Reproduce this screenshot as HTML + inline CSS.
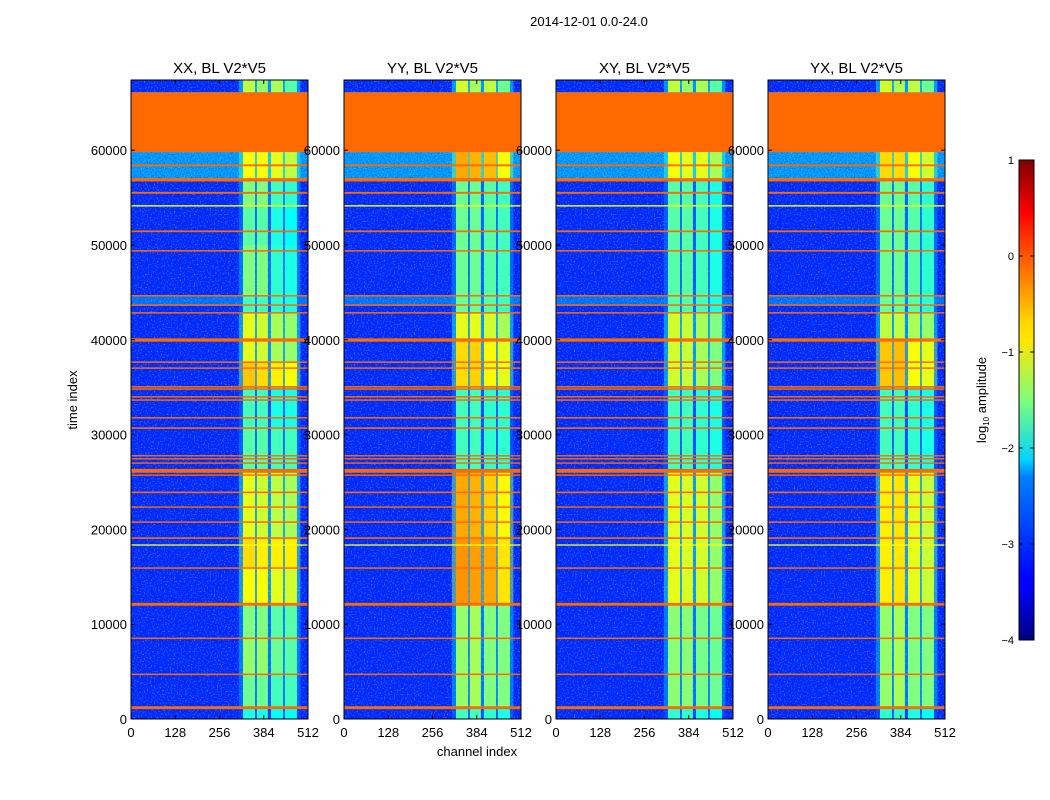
<!DOCTYPE html>
<html><head><meta charset="utf-8">
<style>
html,body{margin:0;padding:0;background:#fff;}
svg{display:block;font-family:"Liberation Sans",sans-serif;}
</style></head>
<body>
<svg id="chart" width="1050" height="800" viewBox="0 0 1050 800" xmlns="http://www.w3.org/2000/svg">
<defs>
<filter id="noiseLight" x="0" y="0" width="100%" height="100%">
<feTurbulence type="fractalNoise" baseFrequency="0.7" numOctaves="1" seed="3" result="t"/>
<feColorMatrix in="t" type="matrix" values="0 0 0 0 0.1  0 0 0 0 0.75  0 0 0 0 1  4 0 0 0 -2.1"/>
</filter>
<filter id="noiseDark" x="0" y="0" width="100%" height="100%">
<feTurbulence type="fractalNoise" baseFrequency="0.7" numOctaves="1" seed="9" result="t"/>
<feColorMatrix in="t" type="matrix" values="0 0 0 0 0  0 0 0 0 0.05  0 0 0 0 0.8  4 0 0 0 -1.9"/>
</filter>
<linearGradient id="jetgrad" x1="0" y1="1" x2="0" y2="0">
<stop offset="0" stop-color="#00007f"/><stop offset="0.11" stop-color="#0000ff"/>
<stop offset="0.125" stop-color="#0000ff"/><stop offset="0.34" stop-color="#0080ff"/>
<stop offset="0.375" stop-color="#00d4ff"/><stop offset="0.5" stop-color="#7dff7a"/>
<stop offset="0.625" stop-color="#ffe600"/><stop offset="0.66" stop-color="#ffd800"/>
<stop offset="0.78" stop-color="#ff6a00"/><stop offset="0.89" stop-color="#ff0000"/>
<stop offset="1" stop-color="#7f0000"/>
</linearGradient>
</defs>
<text x="589" y="26" font-size="13" text-anchor="middle">2014-12-01 0.0-24.0</text>
<g id="panels"></g>
<text x="477" y="756" font-size="13" text-anchor="middle">channel index</text>
<text transform="translate(77,400) rotate(-90)" font-size="13" text-anchor="middle">time index</text>
<g id="colorbar"></g>
<text transform="translate(986,400) rotate(-90)" font-size="13" text-anchor="middle">log<tspan font-size="8" dy="3">10</tspan><tspan dy="-3"> amplitude</tspan></text>
</svg>
<script>
// ---- data ----
const panelTitles = ["XX, BL V2*V5","YY, BL V2*V5","XY, BL V2*V5","YX, BL V2*V5"];
const xTicks = [0,128,256,384,512];
const yTicks = [0,10000,20000,30000,40000,50000,60000];
const cbTicks = [1,0,-1,-2,-3,-4];
const bandChannels = [[324,359],[364,396],[405,440],[445,480]];
const flagBlock = [59800,66100];
const flagRows = [[58300,58500],[56700,57050],[55400,55600],[51350,51530],[49300,49460],[44560,44720],[43580,43740],[42760,42920],[39800,40150],[37560,37720],[36930,37090],[34950,35120],[34720,34880],[33900,34060],[33560,33720],[31690,31850],[30600,30770],[27690,27840],[27370,27520],[26920,27070],[25970,26380],[25650,25800],[23820,23990],[22280,22430],[20690,20850],[19000,19170],[15840,16000],[11950,12250],[8430,8590],[4630,4790],[1040,1350]];
const featureRows = [[54050,54200],[18280,18420]];
const bgSegments = [[0,43600,-3.2],[43600,44700,-2.8],[44700,56900,-3.2],[56900,59800,-2.6],[66100,67400,-3.2]];
const bandXX = [[0,1200,-2.0,-2.0,-2.1,-2.1],[1200,4700,-1.6,-1.6,-1.8,-1.8],[4700,8500,-1.4,-1.4,-1.6,-1.7],[8500,12100,-1.5,-1.5,-1.7,-1.7],[12100,15900,-0.9,-0.9,-1.0,-1.1],[15900,19100,-0.7,-0.8,-0.8,-0.8],[19100,26000,-1.0,-1.1,-1.2,-1.3],[26000,30700,-1.7,-1.7,-1.8,-1.8],[30700,35000,-1.8,-1.8,-2.0,-2.0],[35000,37600,-0.6,-0.7,-0.8,-0.9],[37600,42800,-1.0,-1.1,-1.3,-1.4],[42800,44600,-1.8,-1.8,-1.9,-2.0],[44600,50000,-1.5,-1.5,-1.9,-2.0],[50000,54000,-1.7,-1.7,-2.0,-2.1],[54000,56900,-1.5,-1.5,-1.8,-1.9],[56900,59800,-0.9,-0.9,-1.0,-1.2],[66100,67400,-1.2,-1.4,-1.3,-1.7]];
const bandYY = [[0,1200,-1.8,-1.8,-1.9,-2.0],[1200,12100,-1.4,-1.3,-1.5,-1.5],[12100,19100,-0.35,-0.4,-0.45,-0.75],[19100,26000,-0.45,-0.5,-0.65,-0.85],[26000,35000,-1.8,-1.8,-1.9,-1.9],[35000,40000,-0.7,-0.65,-0.85,-1.0],[40000,42800,-1.0,-1.0,-1.1,-1.3],[42800,56900,-1.6,-1.6,-1.7,-1.8],[56900,59800,-0.45,-0.5,-0.55,-0.9],[66100,67400,-1.1,-1.3,-1.2,-1.6]];
const bandXY = [[0,1200,-1.9,-1.9,-2.0,-2.1],[1200,12100,-1.45,-1.45,-1.55,-1.6],[12100,26000,-1.0,-1.05,-1.1,-1.4],[26000,35000,-1.8,-1.8,-1.9,-2.0],[35000,42800,-1.1,-1.15,-1.3,-1.5],[42800,56900,-1.7,-1.7,-1.8,-2.0],[56900,59800,-0.9,-1.0,-1.0,-1.3],[66100,67400,-1.2,-1.4,-1.3,-1.7]];
const bandYX = [[0,1200,-1.9,-1.9,-2.0,-2.1],[1200,12100,-1.4,-1.3,-1.5,-1.5],[12100,26000,-0.8,-0.75,-1.0,-1.15],[26000,35000,-1.8,-1.8,-1.9,-2.0],[35000,40000,-0.6,-0.55,-0.9,-1.0],[40000,42800,-1.2,-1.2,-1.3,-1.4],[42800,56900,-1.6,-1.6,-1.7,-1.9],[56900,59800,-0.7,-0.7,-0.9,-1.1],[66100,67400,-1.1,-1.3,-1.2,-1.6]];
const panelBands = [bandXX,bandYY,bandXY,bandYX];

// ---- layout / scales ----
const panelLeft = [131,344,556,768];
const panelW = 177, plotTop = 80, plotBottom = 719;
const chMax = 512, tMax = 67400, vMin = -4, vMax = 1;
const yScale = t => plotBottom - t*(plotBottom-plotTop)/tMax;
const xScale = (p,c) => panelLeft[p] + c*panelW/chMax;
function jet(v){
  const x = Math.max(0,Math.min(1,(v-vMin)/(vMax-vMin)));
  const cl = a => Math.round(255*Math.max(0,Math.min(1,a)));
  return `rgb(${cl(1.5-Math.abs(4*x-3))},${cl(1.5-Math.abs(4*x-2))},${cl(1.5-Math.abs(4*x-1))})`;
}
const NS = "http://www.w3.org/2000/svg";
function mk(tag, attrs, parent){
  const e = document.createElementNS(NS, tag);
  for (const k in attrs) e.setAttribute(k, attrs[k]);
  parent.appendChild(e); return e;
}
const root = document.getElementById('panels');
panelTitles.forEach((title, p) => {
  const g = mk('g', {}, root);
  
  
  const x0 = xScale(p,0), x1 = xScale(p,chMax);
  bgSegments.forEach(s => {
    const r = mk('rect', {x:x0, y:yScale(s[1]), width:x1-x0, height:yScale(s[0])-yScale(s[1]), fill:jet(s[2])}, g);
    
    
  });
  const n1 = mk('rect', {x:x0, y:plotTop, width:x1-x0, height:plotBottom-plotTop, filter:'url(#noiseDark)', opacity:0.55}, g);
  
  
  const n2 = mk('rect', {x:x0, y:plotTop, width:x1-x0, height:plotBottom-plotTop, filter:'url(#noiseLight)', opacity:0.45}, g);
  
  
  panelBands[p].forEach(s => {
    const r = mk('rect', {x:xScale(p,312), y:yScale(s[1]), width:xScale(p,490)-xScale(p,312), height:yScale(s[0])-yScale(s[1]), fill:jet(Math.max(s[2],s[5])-1.0), opacity:0.5}, g);
    
    
  });
  panelBands[p].forEach(s => {
    bandChannels.forEach((bc, b) => {
      const r = mk('rect', {x:xScale(p,bc[0]), y:yScale(s[1]), width:xScale(p,bc[1])-xScale(p,bc[0]), height:yScale(s[0])-yScale(s[1]), fill:jet(s[2+b])}, g);
      
      
    });
  });
  featureRows.forEach(f => {
    const r = mk('rect', {x:x0, y:yScale(f[1]), width:x1-x0, height:yScale(f[0])-yScale(f[1]), fill:jet(-0.9)}, g);
    
    
  });
  flagRows.forEach(f => {
    const r = mk('rect', {x:x0, y:yScale(f[1]), width:x1-x0, height:Math.max(1.2,yScale(f[0])-yScale(f[1])), fill:'#ff6a00'}, g);
    
    
  });
  const fb = mk('rect', {x:x0, y:yScale(flagBlock[1]), width:x1-x0, height:yScale(flagBlock[0])-yScale(flagBlock[1]), fill:'#ff6a00'}, g);
  
  
  const fr = mk('rect', {x:x0, y:plotTop, width:x1-x0, height:plotBottom-plotTop, fill:'none', stroke:'#000', 'stroke-width':1}, g);
  
  
  const tt = mk('text', {x:(x0+x1)/2, y:73, 'font-size':15, 'text-anchor':'middle'}, g);
  tt.textContent = title;
  
  
  xTicks.forEach(v => {
    const x = xScale(p,v);
    mk('line', {x1:x, x2:x, y1:plotBottom, y2:plotBottom-4, stroke:'#000'}, g);
    mk('line', {x1:x, x2:x, y1:plotTop, y2:plotTop+4, stroke:'#000'}, g);
    const t = mk('text', {x:x, y:737, 'font-size':13, 'text-anchor':'middle'}, g);
    t.textContent = v;
    
    
  });
  yTicks.forEach(v => {
    const y = yScale(v);
    mk('line', {x1:x0, x2:x0+4, y1:y, y2:y, stroke:'#000'}, g);
    mk('line', {x1:x1, x2:x1-4, y1:y, y2:y, stroke:'#000'}, g);
    const t = mk('text', {x:x0-4, y:y+5, 'font-size':13, 'text-anchor':'end'}, g);
    t.textContent = v;
    
    
  });
});
const cb = document.getElementById('colorbar');
const cbTop = 160, cbBot = 640, cbX = 1019, cbW = 15;
const cbScale = v => cbBot - (v-vMin)*(cbBot-cbTop)/(vMax-vMin);
const cbr = mk('rect', {x:cbX, y:cbTop, width:cbW, height:cbBot-cbTop, fill:'url(#jetgrad)', stroke:'#000'}, cb);


cbTicks.forEach(v => {
  const y = cbScale(v);
  mk('line', {x1:cbX, x2:cbX+4, y1:y, y2:y, stroke:'#000'}, cb);
  mk('line', {x1:cbX+cbW, x2:cbX+cbW-4, y1:y, y2:y, stroke:'#000'}, cb);
  const t = mk('text', {x:1014, y:y+4, 'font-size':11, 'text-anchor':'end'}, cb);
  t.textContent = v < 0 ? '\u2212' + (-v) : String(v);
  
  
});
</script>
</body></html>
